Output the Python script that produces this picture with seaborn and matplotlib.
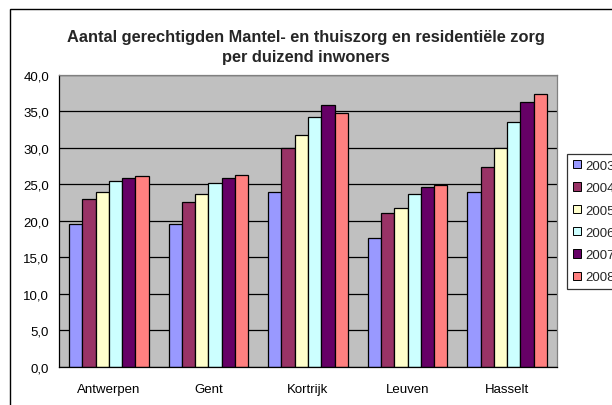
import matplotlib
matplotlib.use("Agg")
import matplotlib.pyplot as plt
import matplotlib.patches as mpatches
from matplotlib.ticker import FuncFormatter, FixedLocator
import seaborn as sns
import pandas as pd

cities = ["Antwerpen", "Gent", "Kortrijk", "Leuven", "Hasselt"]
years = ["2003", "2004", "2005", "2006", "2007", "2008"]
v2003 = [19.5, 19.5, 24.0, 17.6, 24.0]
v2004 = [23.0, 22.5, 29.9, 21.1, 27.4]
v2005 = [24.0, 23.6, 31.8, 21.8, 29.9]
v2006 = [25.5, 25.2, 34.2, 23.6, 33.5]
v2007 = [25.8, 25.9, 35.8, 24.6, 36.3]
v2008 = [26.1, 26.3, 34.7, 24.9, 37.4]
series = [v2003, v2004, v2005, v2006, v2007, v2008]
colors = ["#9999FF", "#993366", "#FFFFCC", "#CCFFFF", "#660066", "#FF8080"]
title = "Aantal gerechtigden Mantel- en thuiszorg en residentiële zorg\nper duizend inwoners"

rows = []
for y, vals in zip(years, series):
    for c, v in zip(cities, vals):
        rows.append({"stad": c, "jaar": y, "waarde": v})
df = pd.DataFrame(rows)

sns.set_style("white")
plt.rcParams["font.family"] = ["Liberation Sans", "DejaVu Sans"]

W, H = 612, 406
fig = plt.figure(figsize=(W / 100, H / 100), dpi=100)
fig.patch.set_facecolor("white")
ax = fig.add_axes([59 / W, 1 - 367.7 / H, (557 - 59) / W, (367.7 - 75.7) / H])

sns.barplot(data=df, x="stad", y="waarde", hue="jaar", order=cities,
            hue_order=years, palette=colors, width=0.8, gap=0,
            edgecolor="black", linewidth=0.9, saturation=1, ax=ax,
            errorbar=None)

ax.set_facecolor("#C0C0C0")
ax.set_ylim(0, 40)
ax.set_xlim(-0.5, len(cities) - 0.5)
ax.set_yticks([0, 5, 10, 15, 20, 25, 30, 35, 40])
ax.yaxis.set_major_formatter(FuncFormatter(lambda v, p: f"{v:.1f}".replace(".", ",")))
ax.grid(axis="y", color="black", linewidth=0.9)
ax.set_axisbelow(True)
ax.set_xlabel("")
ax.set_ylabel("")

ax.tick_params(axis="x", which="major", length=0, labelsize=9.5, pad=12)
ax.xaxis.set_minor_locator(FixedLocator([i - 0.5 for i in range(len(cities) + 1)]))
ax.tick_params(axis="x", which="minor", length=4, width=0.9, color="black", direction="out")
ax.tick_params(axis="y", length=4, width=0.9, color="black", direction="out", labelsize=9.5, pad=3)
for lab in ax.get_xticklabels() + ax.get_yticklabels():
    lab.set_color("black")

for s in ["left", "bottom"]:
    ax.spines[s].set_color("black")
    ax.spines[s].set_linewidth(0.9)
for s in ["top", "right"]:
    ax.spines[s].set_color("#808080")
    ax.spines[s].set_linewidth(0.9)

fig.text(306 / W, 1 - 30 / H, title, ha="center", va="top", fontsize=11.8,
         fontweight="bold", linespacing=1.38)

handles, labels = ax.get_legend_handles_labels()
ax.get_legend().remove()
leg = fig.legend(handles, labels, loc="upper left",
                 bbox_to_anchor=(567 / W, 1 - 155 / H), fontsize=9.5,
                 frameon=True, fancybox=False, shadow=False, borderaxespad=0,
                 handlelength=0.6, handleheight=0.6, handletextpad=0.3,
                 labelspacing=0.78, borderpad=0.45)
leg.get_frame().set_edgecolor("black")
leg.get_frame().set_linewidth(0.9)
for h in leg.legend_handles:
    h.set_edgecolor("black")
    h.set_linewidth(0.7)

frame = mpatches.Rectangle((9.5 / W, -0.2), 2, 1.2 - 9.5 / H, transform=fig.transFigure,
                           fill=False, edgecolor="black", linewidth=1, clip_on=False)
fig.patches.append(frame)

fig.savefig("out.png", dpi=100)
